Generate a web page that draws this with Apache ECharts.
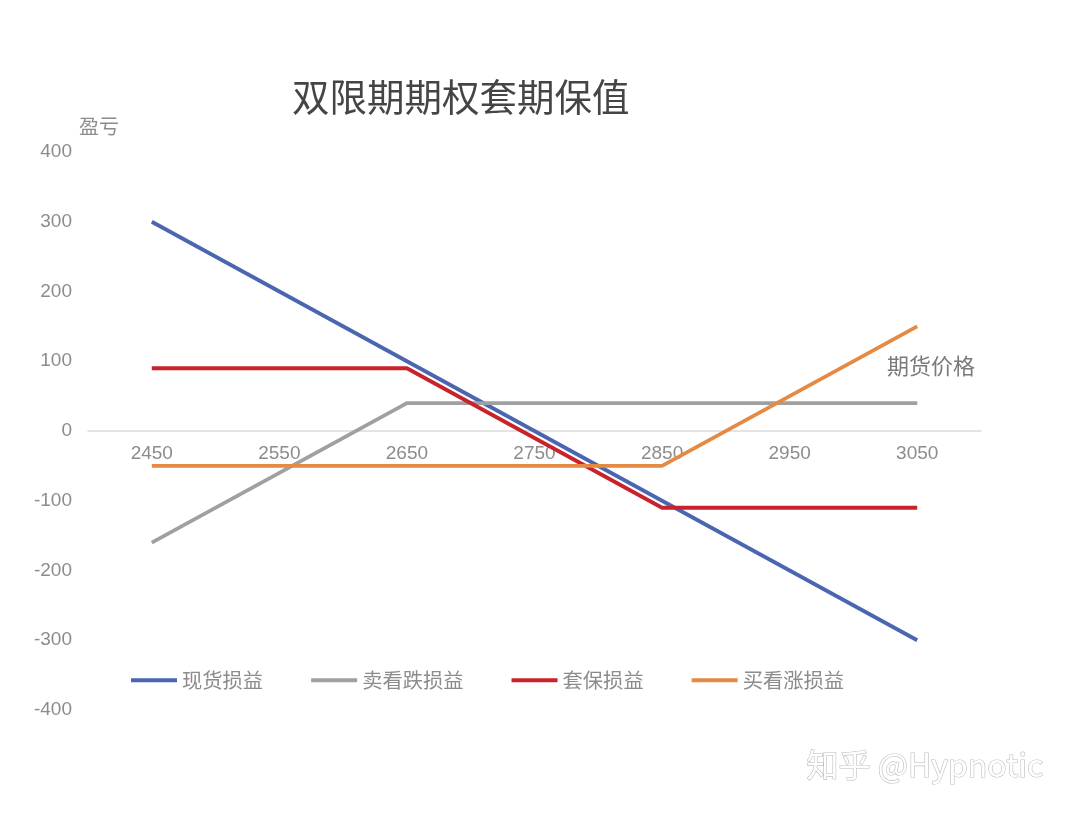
<!DOCTYPE html>
<html>
<head>
<meta charset="utf-8">
<script src="https://cdn.jsdelivr.net/npm/echarts@6/dist/echarts.min.js"></script>
<style>html,body{margin:0;padding:0;background:#fff}#c{width:1070px;height:818px}</style>
</head>
<body>
<div id="c"></div>
<script>
const categories = ['2450', '2550', '2650', '2750', '2850', '2950', '3050'];
const spotPL = [300, 200, 100, 0, -100, -200, -300];
const sellPutPL = [-160, -60, 40, 40, 40, 40, 40];
const hedgePL = [90, 90, 90, -10, -110, -110, -110];
const buyCallPL = [-50, -50, -50, -50, -50, 50, 150];
const seriesNames = ['现货损益', '卖看跌损益', '套保损益', '买看涨损益'];
const colors = ['#4a66b0', '#a0a0a0', '#c8232b', '#e58a44'];

const chart = echarts.init(document.getElementById('c'));
const font = '"Noto Sans CJK SC", "Noto Sans", sans-serif';
const gridTop = 152, gridBottom = 108, chartH = 818;
const plotH = chartH - gridTop - gridBottom;
const mk = (name, data, i) => ({
  name, type: 'line', data, showSymbol: false, symbol: 'none',
  lineStyle: { width: 3.8, color: colors[i] }, itemStyle: { color: colors[i] }
});
chart.setOption({
  animation: false,
  textStyle: { fontFamily: font },
  grid: { left: 88, right: 89, top: gridTop, bottom: gridBottom },
  xAxis: {
    type: 'category', data: categories, boundaryGap: true,
    offset: -plotH / 2,
    axisLine: { onZero: false, lineStyle: { color: '#dcdcdc', width: 1.5 } },
    axisTick: { show: false },
    axisLabel: { color: '#8c8c8c', fontSize: 19, margin: 13, fontFamily: 'Liberation Sans, sans-serif' },
    splitLine: { show: false }
  },
  yAxis: {
    type: 'value', min: -400, max: 400, interval: 100,
    axisLine: { show: false }, axisTick: { show: false },
    splitLine: { show: false },
    axisLabel: { color: '#8c8c8c', fontSize: 19, margin: 16, fontFamily: 'Liberation Sans, sans-serif' }
  },
  legend: {
    left: 126, top: 665, itemWidth: 46, itemHeight: 4, itemGap: 48, icon: 'rect',
    textStyle: { color: '#8c8c8c', fontSize: 20.3, padding: [0, 0, 0, 0] },
    data: seriesNames
  },
  graphic: [
    { type: 'text', left: 292, top: 78, style: { text: '双限期期权套期保值', fill: '#454545', font: '37.5px ' + font } },
    { type: 'text', left: 79, top: 116, style: { text: '盈亏', fill: '#8c8c8c', font: '20px ' + font } },
    { type: 'text', left: 887, top: 355, style: { text: '期货价格', fill: '#7a7a7a', font: '22px ' + font } },
    { type: 'text', left: 806, top: 748, style: { text: '知乎 @Hypnotic', fill: '#ffffff', font: '32px ' + font, stroke: '#bdbdbd', lineWidth: 1.2 } }
  ],
  series: [
    mk(seriesNames[0], spotPL, 0),
    mk(seriesNames[1], sellPutPL, 1),
    mk(seriesNames[2], hedgePL, 2),
    mk(seriesNames[3], buyCallPL, 3)
  ]
});
</script>
</body>
</html>
